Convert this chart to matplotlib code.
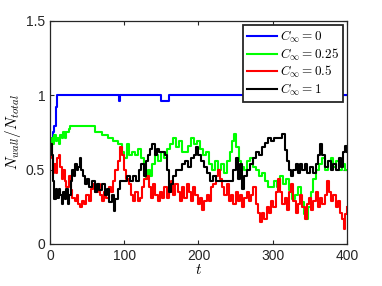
import matplotlib
matplotlib.use("Agg")
import matplotlib.pyplot as plt

plt.rcParams['font.family'] = ['Liberation Sans', 'DejaVu Sans']
plt.rcParams['mathtext.fontset'] = 'cm'

# C_inf = 0 (blue)
t_b = [0, 2, 4, 6, 8, 10, 93, 94, 150, 160, 400]
v_b = [0.67, 0.71, 0.75, 0.79, 0.92, 1.0, 0.96, 1.0, 0.96, 1.0, 1.0]

# C_inf = 0.25 (green)
t_g = [0, 2, 4, 6, 8, 10, 12, 14, 16, 18, 20, 22, 25, 27, 60, 70, 78, 85, 92, 97,
       100, 104, 106, 110, 114, 118, 122, 126, 129, 132, 135, 138, 142, 146, 150,
       154, 158, 162, 166, 170, 174, 178, 182, 186, 190, 194, 198, 202, 206, 210,
       214, 218, 222, 226, 230, 234, 238, 242, 245, 248, 251, 254, 258, 262, 266,
       270, 274, 278, 282, 286, 290, 294, 298, 302, 306, 310, 314, 318, 322, 326,
       330, 334, 338, 342, 345, 348, 352, 355, 358, 362, 366, 370, 374, 378, 382,
       386, 390, 394, 398, 400]
v_g = [0.67, 0.71, 0.67, 0.73, 0.69, 0.71, 0.67, 0.73, 0.71, 0.75, 0.71, 0.75, 0.77, 0.79, 0.75, 0.73, 0.71, 0.69, 0.67, 0.62,
       0.58, 0.67, 0.60, 0.62, 0.60, 0.64, 0.58, 0.50, 0.44, 0.50, 0.46, 0.54, 0.60, 0.56, 0.62,
       0.58, 0.64, 0.67, 0.71, 0.65, 0.69, 0.62, 0.62, 0.66, 0.71, 0.67, 0.69, 0.64, 0.60, 0.62,
       0.54, 0.50, 0.56, 0.50, 0.54, 0.48, 0.56, 0.62, 0.69, 0.74, 0.65, 0.56, 0.52, 0.50, 0.56,
       0.58, 0.52, 0.50, 0.46, 0.48, 0.42, 0.38, 0.38, 0.42, 0.38, 0.46, 0.40, 0.44, 0.36, 0.30,
       0.33, 0.38, 0.28, 0.20, 0.17, 0.25, 0.35, 0.44, 0.50, 0.54, 0.58, 0.50, 0.56, 0.58, 0.52,
       0.56, 0.50, 0.54, 0.50, 0.50]

# C_inf = 0.5 (red)
t_r = [0, 2, 4, 6, 8, 10, 12, 14, 16, 18, 20, 22, 25, 28, 30, 33, 36, 38, 40, 43,
       46, 49, 52, 55, 58, 61, 64, 67, 70, 73, 76, 79, 82, 85, 88, 91, 94, 97, 100,
       103, 106, 109, 112, 115, 118, 121, 124, 127, 130, 133, 136, 139, 142, 145,
       148, 151, 154, 157, 160, 163, 166, 169, 172, 175, 178, 181, 184, 187, 190,
       193, 196, 199, 202, 205, 208, 211, 214, 217, 220, 223, 226, 229, 232, 235,
       238, 241, 244, 247, 250, 253, 256, 259, 262, 265, 268, 271, 274, 277, 280,
       283, 286, 289, 292, 295, 298, 301, 304, 307, 310, 313, 316, 319, 322, 325,
       328, 331, 334, 337, 340, 343, 346, 349, 352, 355, 358, 361, 364, 367, 370,
       373, 376, 379, 382, 385, 388, 391, 394, 396, 398, 400]
v_r = [0.67, 0.58, 0.48, 0.54, 0.48, 0.58, 0.60, 0.52, 0.44, 0.50, 0.42, 0.38, 0.46, 0.36, 0.31, 0.29, 0.33, 0.27, 0.25, 0.29,
       0.27, 0.33, 0.29, 0.37, 0.40, 0.35, 0.40, 0.33, 0.29, 0.35, 0.31, 0.38, 0.35, 0.42, 0.50, 0.56, 0.65, 0.60, 0.50,
       0.44, 0.40, 0.33, 0.29, 0.35, 0.29, 0.31, 0.38, 0.44, 0.46, 0.38, 0.31, 0.40, 0.33, 0.29,
       0.35, 0.31, 0.38, 0.31, 0.35, 0.42, 0.33, 0.40, 0.35, 0.29, 0.38, 0.31, 0.40, 0.35, 0.29,
       0.38, 0.33, 0.27, 0.31, 0.23, 0.29, 0.33, 0.29, 0.38, 0.40, 0.46, 0.50, 0.44, 0.38, 0.33,
       0.40, 0.29, 0.33, 0.27, 0.35, 0.29, 0.33, 0.25, 0.31, 0.35, 0.29, 0.33, 0.38, 0.27, 0.21,
       0.15, 0.21, 0.17, 0.25, 0.21, 0.29, 0.25, 0.35, 0.44, 0.35, 0.27, 0.31, 0.23, 0.35, 0.40,
       0.29, 0.21, 0.27, 0.33, 0.25, 0.17, 0.27, 0.31, 0.23, 0.29, 0.35, 0.25, 0.31, 0.27, 0.33,
       0.42, 0.35, 0.29, 0.33, 0.25, 0.29, 0.21, 0.17, 0.10, 0.20, 0.25]

# C_inf = 1 (black)
t_k = [0, 2, 4, 6, 8, 10, 12, 14, 16, 18, 20, 22, 24, 26, 28, 30, 32, 34, 36, 38,
       40, 42, 44, 47, 50, 53, 56, 60, 63, 66, 70, 74, 77, 80, 83, 86, 88, 91, 94,
       100, 104, 108, 112, 116, 120, 123, 126, 129, 132, 135, 138, 141, 144, 147,
       155, 158, 160, 163, 166, 170, 174, 178, 182, 186, 190, 194, 197, 200, 204,
       208, 212, 216, 220, 224, 230, 247, 250, 253, 256, 259, 262, 266, 270, 274,
       278, 282, 286, 290, 294, 298, 302, 306, 310, 313, 316, 319, 322, 325, 328,
       331, 334, 337, 340, 343, 346, 350, 354, 358, 361, 364, 367, 370, 374, 378,
       382, 386, 389, 392, 395, 398, 400]
v_k = [0.67, 0.60, 0.42, 0.30, 0.37, 0.31, 0.37, 0.33, 0.27, 0.35, 0.30, 0.37, 0.27, 0.33, 0.42, 0.50, 0.46, 0.54, 0.50, 0.52,
       0.58, 0.50, 0.46, 0.40, 0.44, 0.38, 0.42, 0.35, 0.40, 0.36, 0.40, 0.33, 0.37, 0.28, 0.33, 0.22, 0.30, 0.37, 0.42,
       0.42, 0.46, 0.42, 0.46, 0.42, 0.50, 0.54, 0.46, 0.56, 0.60, 0.64, 0.67, 0.60, 0.64, 0.62,
       0.60, 0.50, 0.35, 0.40, 0.46, 0.50, 0.50, 0.54, 0.56, 0.52, 0.58, 0.60, 0.65, 0.60, 0.56,
       0.52, 0.48, 0.42, 0.46, 0.42, 0.42, 0.50, 0.58, 0.44, 0.54, 0.37, 0.46, 0.50, 0.54, 0.58,
       0.62, 0.60, 0.65, 0.68, 0.71, 0.69, 0.71, 0.71, 0.71, 0.74, 0.63, 0.56, 0.50, 0.46, 0.50,
       0.54, 0.48, 0.54, 0.50, 0.54, 0.48, 0.52, 0.48, 0.54, 0.60, 0.67, 0.60, 0.52, 0.56, 0.50,
       0.54, 0.50, 0.58, 0.52, 0.62, 0.66, 0.62]

series = [
    (t_b, v_b, (0, 0, 1), r'$C_\infty = 0$'),
    (t_g, v_g, (0, 1, 0), r'$C_\infty = 0.25$'),
    (t_r, v_r, (1, 0, 0), r'$C_\infty = 0.5$'),
    (t_k, v_k, (0, 0, 0), r'$C_\infty = 1$'),
]

fig = plt.figure(figsize=(3.82, 2.86), dpi=100)
ax = fig.add_axes([0.131, 0.147, 0.777, 0.78])

for t, v, c, lab in series:
    ax.plot(t, v, color=c, lw=1.5, drawstyle='steps-post', label=lab)

ax.set_xlim(0, 400)
ax.set_ylim(0, 1.5)
ax.set_xticks([0, 100, 200, 300, 400])
ax.set_yticks([0, 0.5, 1, 1.5])
ax.set_yticklabels(['0', '0.5', '1', '1.5'])
ax.tick_params(direction='in', top=True, right=True, length=3, width=0.8,
               labelsize=10, colors='#262626')
for s in ax.spines.values():
    s.set_color('#262626')
    s.set_linewidth(0.9)

ax.set_xlabel(r'$t$', fontsize=11, labelpad=0)
ax.set_ylabel(r'$N_{wall}/N_{total}$', fontsize=11, labelpad=2)

leg = ax.legend(loc='upper right', fontsize=9.5, handlelength=2.3, handletextpad=0.2,
                labelspacing=0.1, borderpad=0.3, borderaxespad=0.3, fancybox=False,
                framealpha=1)
leg.get_frame().set_edgecolor('#262626')
leg.get_frame().set_linewidth(1.3)

fig.savefig('out.png', dpi=100)
